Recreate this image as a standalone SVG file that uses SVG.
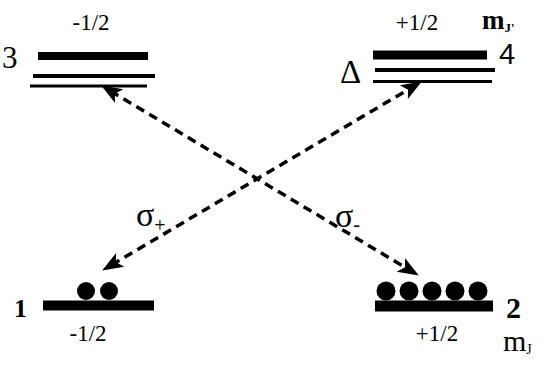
<svg xmlns="http://www.w3.org/2000/svg" width="540" height="369" viewBox="0 0 540 369">
<style>
.t{font-family:"Liberation Serif",serif;fill:#000}
.s{font-family:"Liberation Sans",sans-serif;fill:#000}
.lvl{stroke:#000;fill:none}
.dash{stroke:#000;stroke-width:3.5;stroke-dasharray:9 6;fill:none}
.frac{font-size:23px;text-anchor:middle}
</style>
<defs>
<marker id="ah" markerUnits="userSpaceOnUse" markerWidth="30" markerHeight="30" viewBox="-15 -15 30 30" refX="0" refY="0" orient="auto-start-reverse">
<path d="M11,0 L-10,-8 L-5,0 L-10,8 Z" fill="#000" stroke="none"/>
</marker>
</defs>
<rect width="540" height="369" fill="#fff"/>
<g id="level3">
<line class="lvl" x1="38" y1="56" x2="148" y2="56" stroke-width="8"/>
<line class="lvl" x1="33" y1="76" x2="155" y2="76" stroke-width="4"/>
<line class="lvl" x1="30" y1="86" x2="147" y2="86" stroke-width="3"/>
<text class="t" x="2" y="68" font-size="31">3</text>
<text class="t frac" x="91" y="30">-1/2</text>
</g>
<g id="level4">
<line class="lvl" x1="373" y1="55" x2="487" y2="55" stroke-width="9"/>
<line class="lvl" x1="375" y1="70" x2="495" y2="70" stroke-width="4"/>
<line class="lvl" x1="373" y1="81.5" x2="492" y2="81.5" stroke-width="3"/>
<text class="t" x="340" y="83" font-size="33">Δ</text>
<text class="s" x="499" y="64" font-size="29">4</text>
<text class="t frac" x="417" y="30">+1/2</text>
<text class="t" x="482" y="29" font-size="27" font-weight="bold">m<tspan font-size="13" dy="3">J'</tspan></text>
</g>
<g id="level1">
<line class="lvl" x1="43" y1="305.5" x2="154" y2="305.5" stroke-width="10"/>
<circle cx="86" cy="291" r="9" fill="#000"/>
<circle cx="109" cy="291" r="9" fill="#000"/>
<text class="t" x="14" y="317" font-size="26" font-weight="bold">1</text>
<text class="t frac" x="88" y="341">-1/2</text>
</g>
<g id="level2">
<line class="lvl" x1="375" y1="306" x2="493" y2="306" stroke-width="11"/>
<circle cx="386" cy="291" r="9.5" fill="#000"/>
<circle cx="409" cy="291" r="9.5" fill="#000"/>
<circle cx="432" cy="291" r="9.5" fill="#000"/>
<circle cx="455" cy="291" r="9.5" fill="#000"/>
<circle cx="478" cy="291" r="9.5" fill="#000"/>
<text class="t" x="506" y="318" font-size="30" font-weight="bold">2</text>
<text class="t" x="503" y="351" font-size="30">m<tspan font-size="14" dy="3">J</tspan></text>
<text class="t frac" x="437" y="341">+1/2</text>
</g>
<g id="connectors">
<line class="dash" x1="110.6" y1="91.1" x2="409.4" y2="269.9" marker-start="url(#ah)" marker-end="url(#ah)"/>
<line class="dash" x1="111.6" y1="264.9" x2="412.4" y2="87.1" marker-start="url(#ah)" marker-end="url(#ah)"/>
<text class="t" x="136" y="226" font-size="34">σ<tspan font-size="20" dy="6">+</tspan></text>
<text class="t" x="335" y="227" font-size="34">σ<tspan font-size="20" dy="4">-</tspan></text>
</g>
</svg>
